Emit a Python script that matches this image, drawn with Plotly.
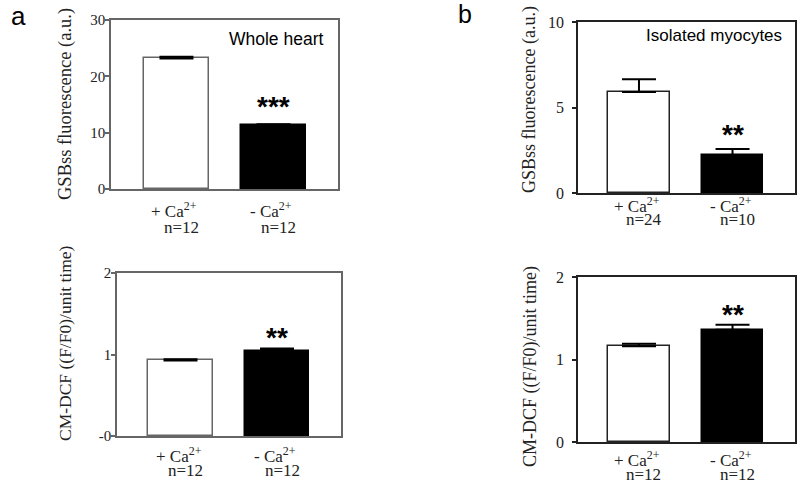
import plotly.graph_objects as go

# ---- data ----
groups = ["+ Ca<sup>2+</sup>", "- Ca<sup>2+</sup>"]
a_top_vals = [23.2, 11.3]
a_top_err = [0.25, 0.15]
a_top_n = ["n=12", "n=12"]
a_bot_vals = [0.93, 1.04]
a_bot_err = [0.01, 0.03]
a_bot_n = ["n=12", "n=12"]
b_top_vals = [5.9, 2.2]
b_top_err = [0.75, 0.38]
b_top_n = ["n=24", "n=10"]
b_bot_vals = [1.16, 1.36]
b_bot_err = [0.03, 0.06]
b_bot_n = ["n=12", "n=12"]

a_top_ticks = [0, 10, 20, 30]
a_top_ticktext = ["0", "10", "20", "30"]
a_bot_ticks = [0, 1, 2]
a_bot_ticktext = ["-0", "1", "2"]
b_top_ticks = [0, 5, 10]
b_top_ticktext = ["0", "5", "10"]
b_bot_ticks = [0, 1, 2]
b_bot_ticktext = ["0", "1", "2"]

W, H = 800, 487
SERIF = "Liberation Serif, Times New Roman, serif"
SANS = "Liberation Sans, Arial, sans-serif"


def px_x(p):
    return p / W


def px_y(p):
    return 1 - p / H


panels = [
    dict(vals=a_top_vals, err=a_top_err, n=a_top_n, ticks=a_top_ticks, tt=a_top_ticktext,
         yr=[0, 30], xd=(111, 338), yd=(20, 189), xr=[-0.675, 1.665], bw=0.67, capw=17, eth=2.5,
         lc="#666666", tf=15, so=-3, ylabel="GSBss fluorescence (a.u.)", lx=65, ly=104, ls=18.5,
         stars="***", sy=106, l1=210, l2=227),
    dict(vals=a_bot_vals, err=a_bot_err, n=a_bot_n, ticks=a_bot_ticks, tt=a_bot_ticktext,
         yr=[0, 2], xd=(117, 341), yd=(273, 436), xr=[-0.658, 1.663], bw=0.67, capw=17, eth=2.5,
         lc="#666666", tf=15, so=-3, ylabel="CM-DCF ((F/F0)/unit time)", lx=65, ly=343, ls=17.5,
         stars="**", sy=337, l1=455, l2=470),
    dict(vals=b_top_vals, err=b_top_err, n=b_top_n, ticks=b_top_ticks, tt=b_top_ticktext,
         yr=[0, 10], xd=(578, 795), yd=(22, 193), xr=[-0.652, 1.668], bw=0.66, capw=17, eth=2,
         lc="#222222", tf=16, so=5, ylabel="GSBss fluorescence (a.u.)", lx=530, ly=100, ls=18,
         stars="**", sy=135, l1=205, l2=219),
    dict(vals=b_bot_vals, err=b_bot_err, n=b_bot_n, ticks=b_bot_ticks, tt=b_bot_ticktext,
         yr=[0, 2], xd=(578, 795), yd=(277, 442), xr=[-0.652, 1.668], bw=0.66, capw=17, eth=2,
         lc="#222222", tf=16, so=5, ylabel="CM-DCF ((F/F0)/unit time)", lx=530, ly=367, ls=18,
         stars="**", sy=314, l1=459, l2=474),
]

fig = go.Figure()
annotations = []
layout = {}

for i, p in enumerate(panels, start=1):
    xa = "x" if i == 1 else f"x{i}"
    ya = "y" if i == 1 else f"y{i}"
    fig.add_trace(go.Bar(
        x=[0, 1], y=p["vals"], xaxis=xa, yaxis=ya, width=p["bw"],
        marker=dict(color=["white", "black"], line=dict(color=[p["lc"], "black"], width=1.5)),
        error_y=dict(type="data", array=p["err"], arrayminus=[0, 0], symmetric=False,
                     color="black", thickness=p["eth"], width=p["capw"]),
        showlegend=False, hoverinfo="skip",
    ))
    xkey = "xaxis" if i == 1 else f"xaxis{i}"
    ykey = "yaxis" if i == 1 else f"yaxis{i}"
    layout[xkey] = dict(domain=[px_x(p["xd"][0]), px_x(p["xd"][1])], range=p["xr"],
                        showticklabels=False, ticks="", showgrid=False, zeroline=False,
                        showline=True, linecolor=p["lc"], linewidth=1.5, mirror=True,
                        anchor=ya, fixedrange=True, automargin=False)
    layout[ykey] = dict(domain=[px_y(p["yd"][1]), px_y(p["yd"][0])], range=p["yr"],
                        tickvals=p["ticks"], ticktext=p["tt"], ticks="outside", ticklen=4,
                        tickcolor=p["lc"], tickwidth=1.5, ticklabelstandoff=p["so"],
                        tickfont=dict(family=SERIF, size=p["tf"], color="#222"),
                        showgrid=False, zeroline=False, showline=True, linecolor=p["lc"],
                        linewidth=1.5, mirror=True, anchor=xa, fixedrange=True,
                        automargin=False)
    # y label
    annotations.append(dict(text=p["ylabel"], xref="paper", yref="paper",
                            x=px_x(p["lx"]), y=px_y(p["ly"]), textangle=-90, showarrow=False,
                            font=dict(family=SERIF, size=p["ls"], color="#222"),
                            xanchor="center", yanchor="middle"))
    # category labels
    for k in range(2):
        annotations.append(dict(text=groups[k], xref=xa, yref="paper", x=k, y=px_y(p["l1"]),
                                xshift=-2, showarrow=False, xanchor="center", yanchor="middle",
                                font=dict(family=SERIF, size=17, color="#222")))
        annotations.append(dict(text=p["n"][k], xref=xa, yref="paper", x=k, y=px_y(p["l2"]),
                                xshift=5, showarrow=False, xanchor="center", yanchor="middle",
                                font=dict(family=SERIF, size=17, color="#222")))
    # significance stars
    annotations.append(dict(text=f"<b>{p['stars']}</b>", xref=xa, yref="paper", x=1,
                            y=px_y(p["sy"]), showarrow=False, xanchor="center", yanchor="middle",
                            font=dict(family=SANS, size=28, color="black")))

# panel titles
annotations.append(dict(text="Whole heart", xref="paper", yref="paper", x=px_x(275.5), y=px_y(38.5),
                        showarrow=False, xanchor="center", yanchor="middle",
                        font=dict(family=SANS, size=17.5, color="black")))
annotations.append(dict(text="Isolated myocytes", xref="paper", yref="paper", x=px_x(713.5), y=px_y(36),
                        showarrow=False, xanchor="center", yanchor="middle",
                        font=dict(family=SANS, size=17, color="black")))
# panel letters
annotations.append(dict(text="a", xref="paper", yref="paper", x=px_x(18), y=px_y(16),
                        showarrow=False, xanchor="center", yanchor="middle",
                        font=dict(family=SANS, size=26, color="black")))
annotations.append(dict(text="b", xref="paper", yref="paper", x=px_x(465), y=px_y(14),
                        showarrow=False, xanchor="center", yanchor="middle",
                        font=dict(family=SANS, size=25, color="black")))

fig.update_layout(template="none", width=W, height=H, margin=dict(l=0, r=0, t=0, b=0, pad=0),
                  paper_bgcolor="white", plot_bgcolor="white", bargap=0,
                  annotations=annotations, **layout)

fig.write_html("out.html", config={"displayModeBar": False},
               post_script="document.body.style.margin='0';document.body.style.overflow='hidden';")
